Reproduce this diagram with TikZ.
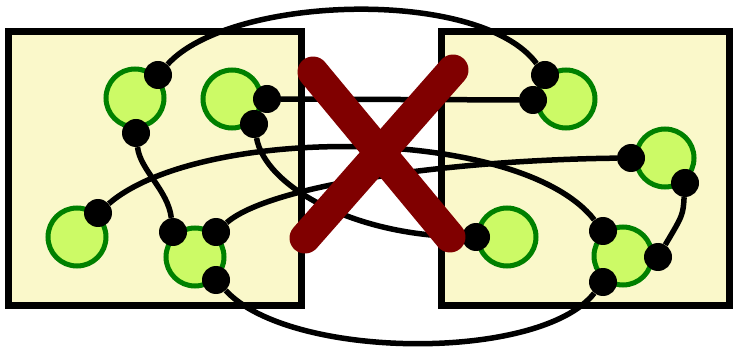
\documentclass[tikz,border=0pt]{standalone}
\definecolor{boxfill}{RGB}{250,248,202}
\definecolor{nodefill}{RGB}{204,250,102}
\definecolor{nodeedge}{RGB}{0,128,0}
\definecolor{crossred}{RGB}{128,0,0}
\begin{document}
\begin{tikzpicture}[x=1pt,y=-1pt,
  region/.style={rectangle,draw=black,fill=boxfill,line width=7pt,inner sep=0pt},
  vertex/.style={circle,draw=nodeedge,fill=nodefill,line width=5pt,minimum size=58pt,inner sep=0pt},
  port/.style={circle,fill=black,minimum size=28pt,inner sep=0pt},
  wire/.style={draw=black,line width=5.5pt},
  cross/.style={draw=crossred,line width=31pt,line cap=round}]
\useasboundingbox (0,0) rectangle (733,347);
% boxes
\node[region,minimum width=293pt,minimum height=273pt] (L) at (155.4,168.5) {};
\node[region,minimum width=288pt,minimum height=273pt] (R) at (585.5,168.5) {};
% green vertices
\node[vertex] (c1) at (135,98) {};
\node[vertex] (c2) at (232,99) {};
\node[vertex] (c3) at (77,237) {};
\node[vertex] (c4) at (195,257) {};
\node[vertex] (c5) at (566,99) {};
\node[vertex] (c6) at (665,158) {};
\node[vertex] (c7) at (507,237) {};
\node[vertex] (c8) at (623,256) {};
% ports
\node[port] (d1) at (158,75) {};
\node[port] (d2) at (136,133) {};
\node[port] (d3) at (267,99) {};
\node[port] (d4) at (254,124) {};
\node[port] (d5) at (98,213) {};
\node[port] (d6) at (173,232) {};
\node[port] (d7) at (216,232) {};
\node[port] (d8) at (216,280) {};
\node[port] (e1) at (545,75) {};
\node[port] (e2) at (533,100) {};
\node[port] (e3) at (631,158) {};
\node[port] (e4) at (685,183) {};
\node[port] (e5) at (476,237) {};
\node[port] (e6) at (603,231) {};
\node[port] (e7) at (658,257) {};
\node[port] (e8) at (603,282) {};
% wires
\path[wire] (d1) .. controls (230,-5) and (480,-13) .. (e1);
\path[wire] (d8) .. controls (290,360) and (540,362) .. (e8);
\path[wire] (d3) -- (e2);
\path[wire] (d2) .. controls (140,170) and (168,190) .. (d6);
\path[wire] (d4) .. controls (265,185) and (350,235) .. (e5);
\path[wire] (d5) .. controls (200,125) and (520,125) .. (e6);
\path[wire] (d7) .. controls (270,185) and (450,160) .. (e3);
\path[wire] (e4) .. controls (683,215) .. (e7);
% cross
\coordinate (x1) at (313,72);
\coordinate (x2) at (450,237);
\coordinate (x3) at (453,70);
\coordinate (x4) at (305,238);
\path[cross] (x1) -- (x2);
\path[cross] (x3) -- (x4);
\end{tikzpicture}
\end{document}
